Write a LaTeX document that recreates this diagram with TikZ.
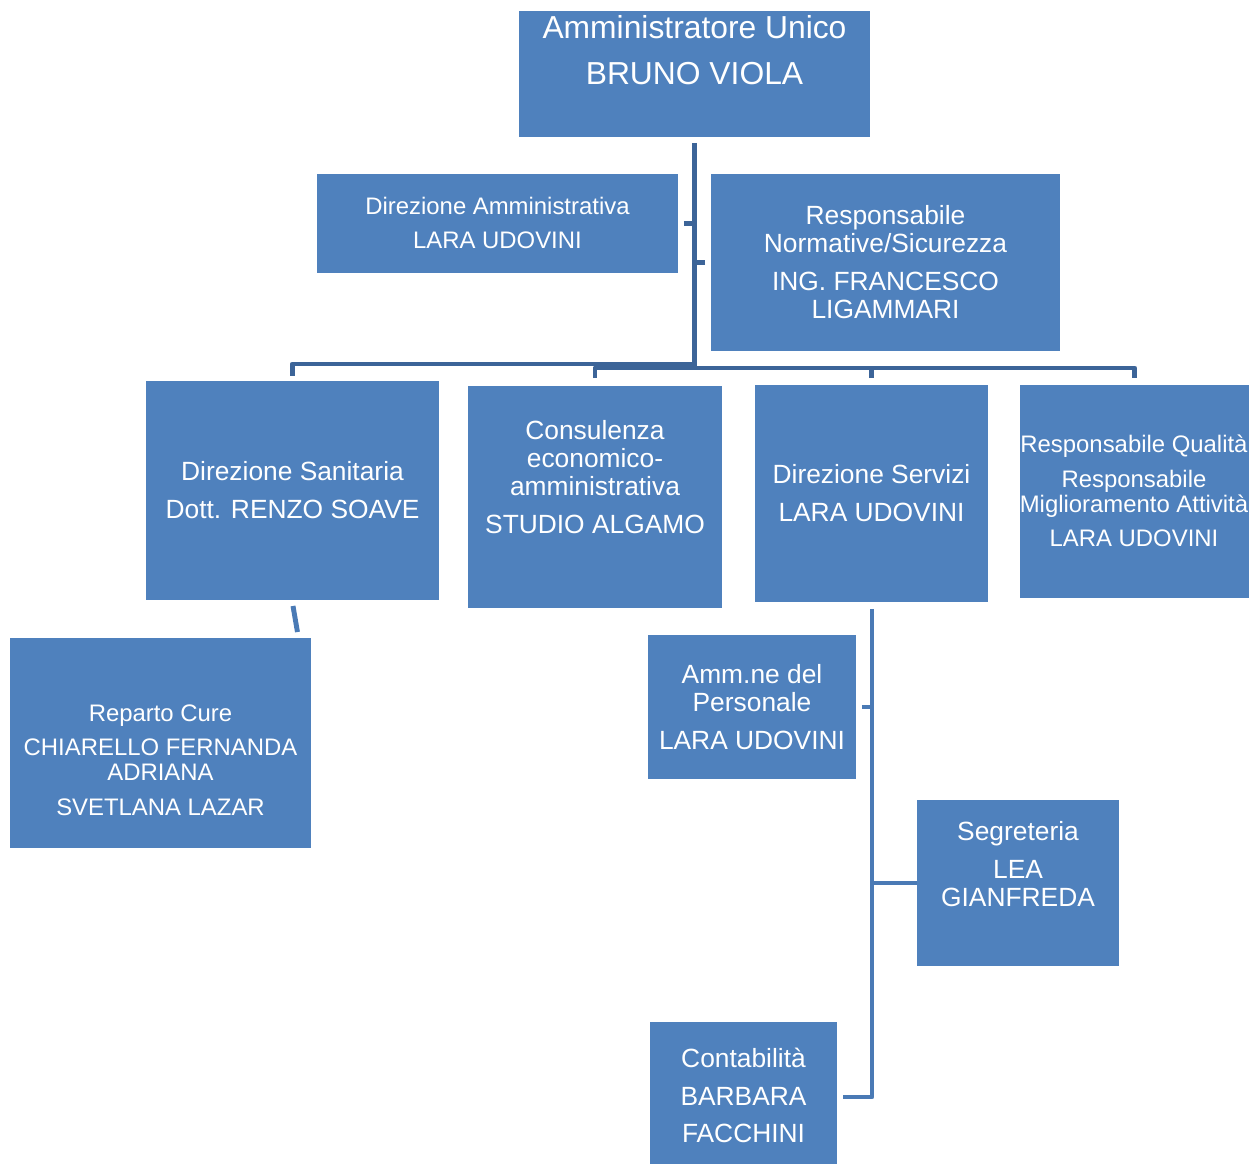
\documentclass[tikz,border=0pt]{standalone}
\usepackage{fontspec}
\setmainfont{Liberation Sans}
\usepackage{xcolor}
\definecolor{boxblue}{RGB}{79,129,189}
\definecolor{linkdark}{RGB}{60,100,152}
\definecolor{linklight}{RGB}{74,122,181}
\usetikzlibrary{calc}
\tikzset{
  orgbox/.style={fill=boxblue, inner sep=0pt, outer sep=0pt},
  bigtxt/.style={text=white, align=center, inner sep=0pt, font=\fontsize{18.1}{26.1}\selectfont},
  midtxt/.style={text=white, align=center, inner sep=0pt, font=\fontsize{15}{15.9}\selectfont},
  smalltxt/.style={text=white, align=center, inner sep=0pt, font=\fontsize{13.6}{14.2}\selectfont},
  link/.style={linkdark, line width=2.8pt, line join=round},
  sublink/.style={linklight, line width=2.8pt, line join=round}
}

\begin{document}
\begin{tikzpicture}[x=0.02cm, y=-0.02cm]
  \useasboundingbox (0,0) rectangle (1249,1165);

  % boxes
  \node[orgbox, minimum width=7.02cm, minimum height=2.52cm] (ceo) at (694.5,74) {};
  \node[orgbox, minimum width=7.22cm, minimum height=1.98cm] (diramm) at (497.5,223.5) {};
  \node[orgbox, minimum width=6.98cm, minimum height=3.54cm] (resp) at (885.5,262.5) {};
  \node[orgbox, minimum width=5.86cm, minimum height=4.38cm] (dirsan) at (292.5,490.5) {};
  \node[orgbox, minimum width=5.08cm, minimum height=4.44cm] (consul) at (595,497) {};
  \node[orgbox, minimum width=4.66cm, minimum height=4.34cm] (dirserv) at (871.5,493.5) {};
  \node[orgbox, minimum width=4.58cm, minimum height=4.26cm] (qual) at (1134.5,491.5) {};
  \node[orgbox, minimum width=6.02cm, minimum height=4.20cm] (reparto) at (160.5,743) {};
  \node[orgbox, minimum width=4.16cm, minimum height=2.88cm] (ammpers) at (752,707) {};
  \node[orgbox, minimum width=4.04cm, minimum height=3.32cm] (segr) at (1018,883) {};
  \node[orgbox, minimum width=3.74cm, minimum height=2.84cm] (contab) at (743.5,1093) {};

  % texts
  \node[bigtxt] (ceoT) at (694.5,50) {Amministratore Unico\\BRUNO VIOLA};
  \node[smalltxt] (dirammT) at (497.5,223) {Direzione Amministrativa\\[5.4pt]LARA UDOVINI};
  \node[midtxt] (respT) at (885.5,262) {Responsabile\\Normative/Sicurezza\\[5.6pt]ING. FRANCESCO\\LIGAMMARI};
  \node[midtxt] (dirsanT) at (292.5,490) {Direzione Sanitaria\\[5.6pt]Dott. RENZO SOAVE};
  \node[midtxt] (consulT) at (595,477) {Consulenza\\economico-\\amministrativa\\[5.6pt]STUDIO ALGAMO};
  \node[midtxt] (dirservT) at (871.5,493) {Direzione Servizi\\[5.6pt]LARA UDOVINI};
  \node[smalltxt] (qualT) at (1134,491) {Responsabile Qualità\\[5.4pt]Responsabile\\Miglioramento Attività\\[5.4pt]LARA UDOVINI};
  \node[smalltxt] (repartoT) at (160.5,760) {Reparto Cure\\[5.4pt]CHIARELLO FERNANDA\\ADRIANA\\[5.4pt]SVETLANA LAZAR};
  \node[midtxt] (ammpersT) at (752,707) {Amm.ne del\\Personale\\[5.6pt]LARA UDOVINI};
  \node[midtxt] (segrT) at (1018,864) {Segreteria\\[5.6pt]LEA\\GIANFREDA};
  \node[midtxt] (contabT) at (743.5,1095.5) {Contabilità\\[5.6pt]BARBARA\\[5.6pt]FACCHINI};

  % connectors
  \coordinate (busL) at (694.5,364);
  \coordinate (busR) at (694.5,368);
  \draw[link] ($(ceo.south)+(0,6)$) -- (busR);
  \draw[link] ($(diramm.east)+(6,0)$) -- (diramm.east -| busR);
  \draw[link] ($(resp.west)+(-6,0)$) -- (resp.west -| busR);
  \draw[link] (busL) -| ($(dirsan.north)+(0,-5)$);
  \draw[link] ($(consul.north)+(0,-8)$) |- (qual.north |- busR) -- ($(qual.north)+(0,-7)$);
  \draw[link] ($(dirserv.north)+(0,-7)$) -- (dirserv.north |- busR);

  \draw[sublink] ($(dirsan.south)+(0.5,6)$) -- ($(reparto.north east)+(-13.5,-6)$);
  \coordinate (srv) at ($(dirserv.south)+(0.5,7)$);
  \draw[sublink] (srv) |- ($(contab.east)+(6,4)$);
  \draw[sublink] ($(ammpers.east)+(6,0)$) -- (ammpers.east -| srv);
  \draw[sublink] (segr.west) -- (segr.west -| srv);
\end{tikzpicture}
\end{document}
